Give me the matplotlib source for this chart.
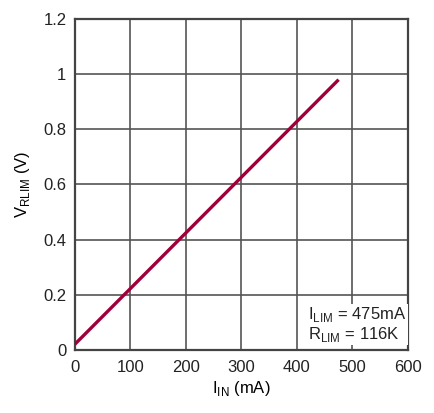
import matplotlib
matplotlib.use('Agg')
import matplotlib.pyplot as plt

# data
i_in = [0, 475]          # mA
v_rlim = [0.02, 0.98]    # V
x_ticks = [0, 100, 200, 300, 400, 500, 600]
y_ticks = [0, 0.2, 0.4, 0.6, 0.8, 1.0, 1.2]
y_labels = ['0', '0.2', '0.4', '0.6', '0.8', '1', '1.2']

plt.rcParams['font.family'] = ['Liberation Sans', 'DejaVu Sans']
plt.rcParams['font.size'] = 12

fig = plt.figure(figsize=(4.35, 4.13), dpi=100)
ax = fig.add_axes([0.172, 0.153, 0.766, 0.801])

ax.plot(i_in, v_rlim, color='#a0003a', linewidth=2.4, solid_capstyle='butt', zorder=3)

ax.set_xlim(0, 600)
ax.set_ylim(0, 1.2)
ax.set_xticks(x_ticks)
ax.set_yticks(y_ticks)
ax.set_yticklabels(y_labels)
ax.grid(True, color='#555555', linewidth=1.2)
ax.tick_params(axis='x', length=0, pad=7, labelcolor='#222222')
ax.tick_params(axis='y', length=0, pad=6, labelcolor='#222222')
for s in ax.spines.values():
    s.set_color('#444444')
    s.set_linewidth(1.6)

ax.set_xlabel(r'I$_{\mathregular{IN}}$ (mA)', labelpad=3)
ax.set_ylabel(r'V$_{\mathregular{RLIM}}$ (V)', labelpad=8)

ax.text(0.70, 0.018, 'I$_{\\mathregular{LIM}}$ = 475mA\nR$_{\\mathregular{LIM}}$ = 116K',
        transform=ax.transAxes, ha='left', va='bottom', multialignment='left',
        fontsize=12, linespacing=1.05, color='#222222',
        bbox=dict(facecolor='white', edgecolor='none', pad=1.0), zorder=4)

fig.savefig('out.png', dpi=100)
